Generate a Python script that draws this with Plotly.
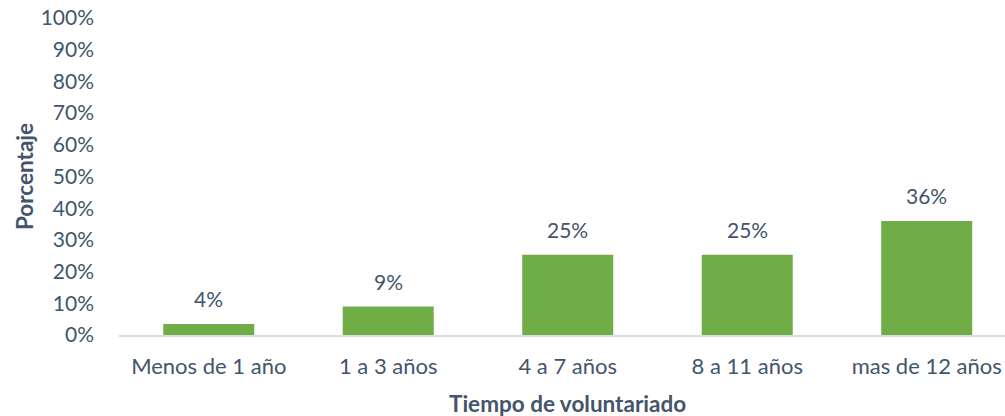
import plotly.graph_objects as go

categories = ["Menos de 1 año", "1 a 3 años", "4 a 7 años", "8 a 11 años", "mas de 12 años"]
values = [0.035, 0.09, 0.253, 0.253, 0.36]
labels = ["4%", "9%", "25%", "25%", "36%"]
y_ticks = [i / 10 for i in range(11)]
y_tick_labels = [f"{i*10}%" for i in range(11)]

TXT = "#44546A"
FONT = "Lato"

fig = go.Figure()
fig.add_trace(go.Bar(
    x=categories, y=values, width=0.507,
    marker=dict(color="#70AD47", line=dict(width=0)),
    hoverinfo="skip",
))
for c, v, t in zip(categories, values, labels):
    fig.add_annotation(x=c, y=v, text=t, showarrow=False, yanchor="middle",
                       yshift=25, font=dict(family=FONT, size=21, color=TXT))

# x-axis title centred on the category span
fig.add_annotation(x=categories[2], y=0, yref="paper", text="<b>Tiempo de voluntariado</b>",
                   showarrow=False, yanchor="middle", yshift=-68,
                   font=dict(family=FONT, size=22.5, color=TXT))

fig.update_layout(
    width=1005, height=416,
    margin=dict(l=119, r=0, t=18, b=81),
    paper_bgcolor="white", plot_bgcolor="white",
    showlegend=False,
    font=dict(family=FONT, size=21, color=TXT),
    xaxis=dict(
        range=[-0.5, 4.436], showgrid=False, zeroline=False, automargin=False,
        showline=True, linecolor="#D9DDE3", linewidth=1.5,
        ticks="", tickfont=dict(family=FONT, size=22, color=TXT),
        ticklabelstandoff=11,
    ),
    yaxis=dict(
        range=[0, 1], tickvals=y_ticks, ticktext=y_tick_labels, automargin=False,
        showgrid=False, zeroline=False, showline=False, ticks="",
        ticklabelstandoff=24,
        tickfont=dict(family=FONT, size=21, color=TXT),
        title=dict(text="<b>Porcentaje</b>", standoff=0,
                   font=dict(family=FONT, size=22.5, color=TXT)),
    ),
)
fig.write_html("out.html", config={"displayModeBar": False},
               post_script="document.body.style.margin='0';")
